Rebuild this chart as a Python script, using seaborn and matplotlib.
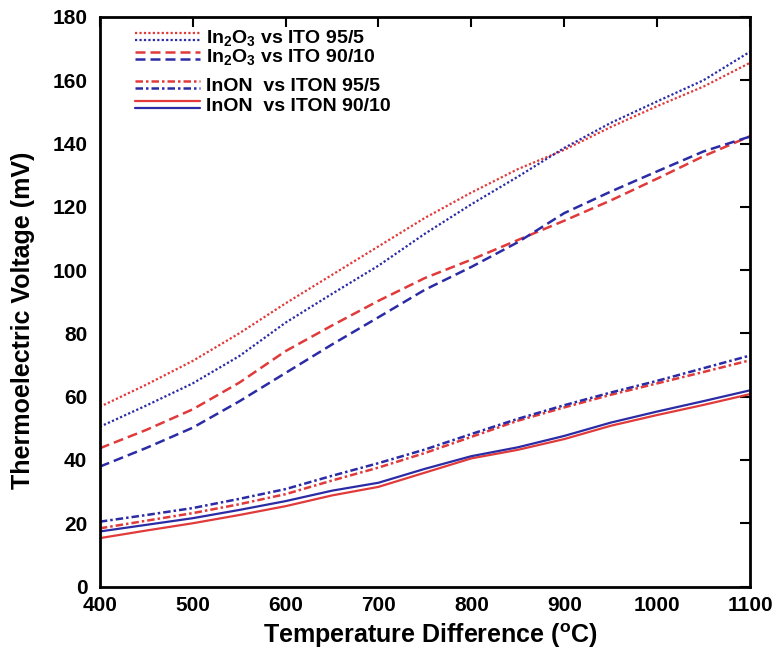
import numpy as np
import pandas as pd
import matplotlib
matplotlib.use("Agg")
import matplotlib.pyplot as plt
import seaborn as sns
from matplotlib.legend_handler import HandlerBase
from matplotlib.lines import Line2D

# ---------------- data ----------------
temperature = [400, 450, 500, 550, 600, 650, 700, 750, 800, 850, 900, 950, 1000, 1050, 1100]

in2o3_ito955_red = [56.8, 63.8, 71.3, 80, 89.5, 98.5, 107.5, 116.5, 124.5, 131.9, 138, 145.2, 151.8, 158, 165.5]
in2o3_ito955_blue = [50.5, 57.2, 64.2, 72.8, 83.4, 92.5, 101.4, 111.5, 120.8, 129.5, 138.6, 146.5, 153.3, 160, 169]
in2o3_ito9010_red = [43.7, 49.5, 56, 64.4, 74.4, 82.5, 90.3, 97.5, 103.3, 109.5, 115.6, 122, 128.9, 136, 142.3]
in2o3_ito9010_blue = [37.9, 43.8, 50.2, 58.5, 67.5, 76.5, 85.1, 93.8, 101, 108.8, 118, 124.8, 131.2, 137.5, 142.2]
inon_iton955_red = [18.4, 20.8, 23.2, 26, 29.2, 33.5, 37.6, 42.2, 47.3, 52.4, 56.6, 60.6, 64.2, 67.8, 71.5]
inon_iton955_blue = [20.5, 22.6, 24.8, 27.7, 30.8, 35, 39, 43.3, 48.2, 53, 57.3, 61.3, 65, 69, 73]
inon_iton9010_red = [15.3, 17.7, 20, 22.6, 25.4, 28.8, 31.5, 36, 40.5, 43.2, 46.6, 50.8, 54.2, 57.4, 60.8]
inon_iton9010_blue = [17.4, 19.5, 21.6, 24.2, 27, 30.3, 32.8, 37.2, 41.2, 44, 47.6, 51.8, 55.3, 58.6, 62]

legend_labels = [r"In$_\mathregular{2}$O$_\mathregular{3}$ vs ITO 95/5",
                 r"In$_\mathregular{2}$O$_\mathregular{3}$ vs ITO 90/10",
                 "InON  vs ITON 95/5",
                 "InON  vs ITON 90/10"]

x_ticks = [400, 500, 600, 700, 800, 900, 1000, 1100]
y_ticks = [0, 20, 40, 60, 80, 100, 120, 140, 160, 180]

# ---------------- style ----------------
sns.set_theme(style="white")
plt.rcParams["font.family"] = ["Liberation Sans", "DejaVu Sans"]
plt.rcParams["font.weight"] = "bold"
plt.rcParams["text.color"] = "black"
plt.rcParams["axes.labelcolor"] = "black"
plt.rcParams["mathtext.fontset"] = "custom"
plt.rcParams["mathtext.rm"] = "Liberation Sans:bold"
plt.rcParams["mathtext.bf"] = "Liberation Sans:bold"
plt.rcParams["mathtext.default"] = "regular"

RED = "#e03a3a"
BLUE = "#2b2ba6"

fig = plt.figure(figsize=(7.74, 6.51), dpi=100)
ax = fig.add_axes([0.129, 0.099, 0.840, 0.875])

series = [
    (in2o3_ito955_red, RED, (0, (1, 1)), 1.6),
    (in2o3_ito955_blue, BLUE, (0, (1, 1)), 1.6),
    (in2o3_ito9010_red, RED, (0, (4, 2)), 1.8),
    (in2o3_ito9010_blue, BLUE, (0, (4, 2)), 1.8),
    (inon_iton955_red, RED, (0, (3, 1.2, 1, 1.2)), 1.8),
    (inon_iton955_blue, BLUE, (0, (3, 1.2, 1, 1.2)), 1.8),
    (inon_iton9010_red, RED, "-", 1.6),
    (inon_iton9010_blue, BLUE, "-", 1.6),
]

lines = []
for vals, col, ls, lw in series:
    df = pd.DataFrame({"T": temperature, "V": vals})
    sns.lineplot(data=df, x="T", y="V", ax=ax, color=col, linestyle=ls, linewidth=lw)
    lines.append(ax.lines[-1])

ax.set_xlim(400, 1100)
ax.set_ylim(0, 180)
ax.set_xticks(x_ticks)
ax.set_yticks(y_ticks)
ax.tick_params(direction="in", top=True, right=True, length=7, width=1.5,
               labelsize=15, colors="black")
ax.tick_params(axis="x", pad=7)
ax.tick_params(axis="y", pad=9)
for lab in ax.get_xticklabels() + ax.get_yticklabels():
    lab.set_fontweight("bold")
for sp in ax.spines.values():
    sp.set_linewidth(2)
    sp.set_color("black")
    sp.set_visible(True)

ax.set_xlabel(r"Temperature Difference ($^\mathregular{o}$C)", fontsize=18, fontweight="bold", color="black")
ax.set_ylabel("Thermoelectric Voltage (mV)", fontsize=18, fontweight="bold", color="black")
ax.xaxis.set_label_coords(0.509, -0.062)
ax.yaxis.set_label_coords(-0.1, 0.468)


class TwoLineHandler(HandlerBase):
    def create_artists(self, legend, orig_handle, xdescent, ydescent, width, height, fontsize, trans):
        arts = []
        for ln, dy in zip(orig_handle, (2.5, -2.5)):
            l = Line2D([-xdescent, width - xdescent], [height / 2 - ydescent + dy] * 2)
            l.update_from(ln)
            l.set_transform(trans)
            arts.append(l)
        return arts


common = dict(handler_map={tuple: TwoLineHandler()}, frameon=False, loc="center left",
              prop={"size": 14, "weight": "bold"}, handlelength=3.35, handletextpad=0.3,
              borderaxespad=0, borderpad=0, labelcolor="black")
pairs = [(lines[0], lines[1]), (lines[2], lines[3]), (lines[4], lines[5]), (lines[6], lines[7])]
ycent = [0.9626, 0.9293, 0.8784, 0.8433]
for i, (pair, lab, yc) in enumerate(zip(pairs, legend_labels, ycent)):
    lg = ax.legend([pair], [lab], bbox_to_anchor=(0.054, yc), **common)
    if i < 3:
        ax.add_artist(lg)

fig.savefig("out.png", dpi=100)
